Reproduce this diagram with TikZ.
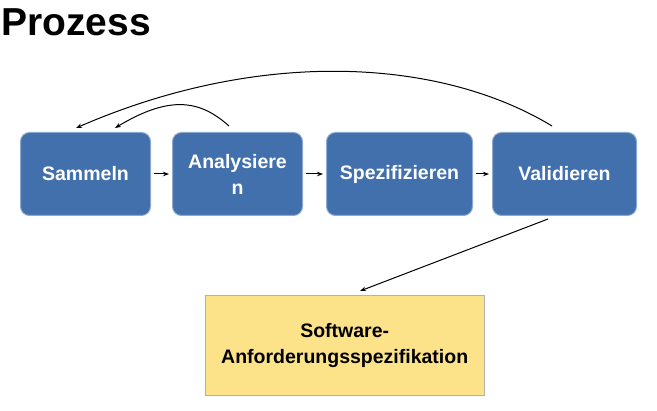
\documentclass[tikz,border=0pt]{standalone}
\usepackage{fontspec}
\setmainfont{Liberation Sans}
\usetikzlibrary{arrows.meta}
\definecolor{boxblue}{HTML}{4170AD}
\definecolor{boxyel}{HTML}{FCE38A}
\tikzset{
 proc/.style={draw=boxblue!60!white, line width=1pt, fill=boxblue, rounded corners=9pt, text=white, font=\bfseries\fontsize{19.5}{26}\selectfont, align=center, anchor=north west},
 conn/.style={-{Stealth[length=6pt,width=4.5pt]}, line width=1pt},
}
\begin{document}
\begin{tikzpicture}[x=1pt,y=-1pt]
\useasboundingbox (0,0) rectangle (657,411);
\node[anchor=west, font=\bfseries\fontsize{39}{44}\selectfont, inner sep=0] (title) at (1,22) {Prozess};
\node[proc, minimum width=130pt, minimum height=83pt] (s) at (20,132) {Sammeln};
\node[proc, minimum width=130pt, minimum height=83pt, text width=118pt] (a) at (172,132) {Analysiere\\n};
\node[proc, minimum width=146pt, minimum height=83pt] (z) at (326,132) {Spezifizieren};
\node[proc, minimum width=144pt, minimum height=83pt] (v) at (492,132) {Validieren};
\node[draw=gray!60, fill=boxyel, anchor=north west, minimum width=279pt, minimum height=100pt, font=\bfseries\fontsize{19.5}{26}\selectfont, align=center] (y) at (205,295) {Software-\\Anforderungsspezifikation};
\draw[conn] ([xshift=3pt]s.east) -- ([xshift=-3pt]a.west);
\draw[conn] ([xshift=3pt]a.east) -- ([xshift=-3pt]z.west);
\draw[conn] ([xshift=3pt]z.east) -- ([xshift=-3pt]v.west);
\coordinate (vt) at (552,126);
\coordinate (st) at (76,128);
\coordinate (at) at (229,126);
\coordinate (st2) at (115,128);
\draw[conn] (vt) .. controls (440,58) and (260,48) .. (st);
\draw[conn] (at) .. controls (200,100) and (170,95) .. (st2);
\coordinate (vb) at (548,219);
\coordinate (yt) at (360,291);
\draw[conn] (vb) -- (yt);
\end{tikzpicture}
\end{document}
